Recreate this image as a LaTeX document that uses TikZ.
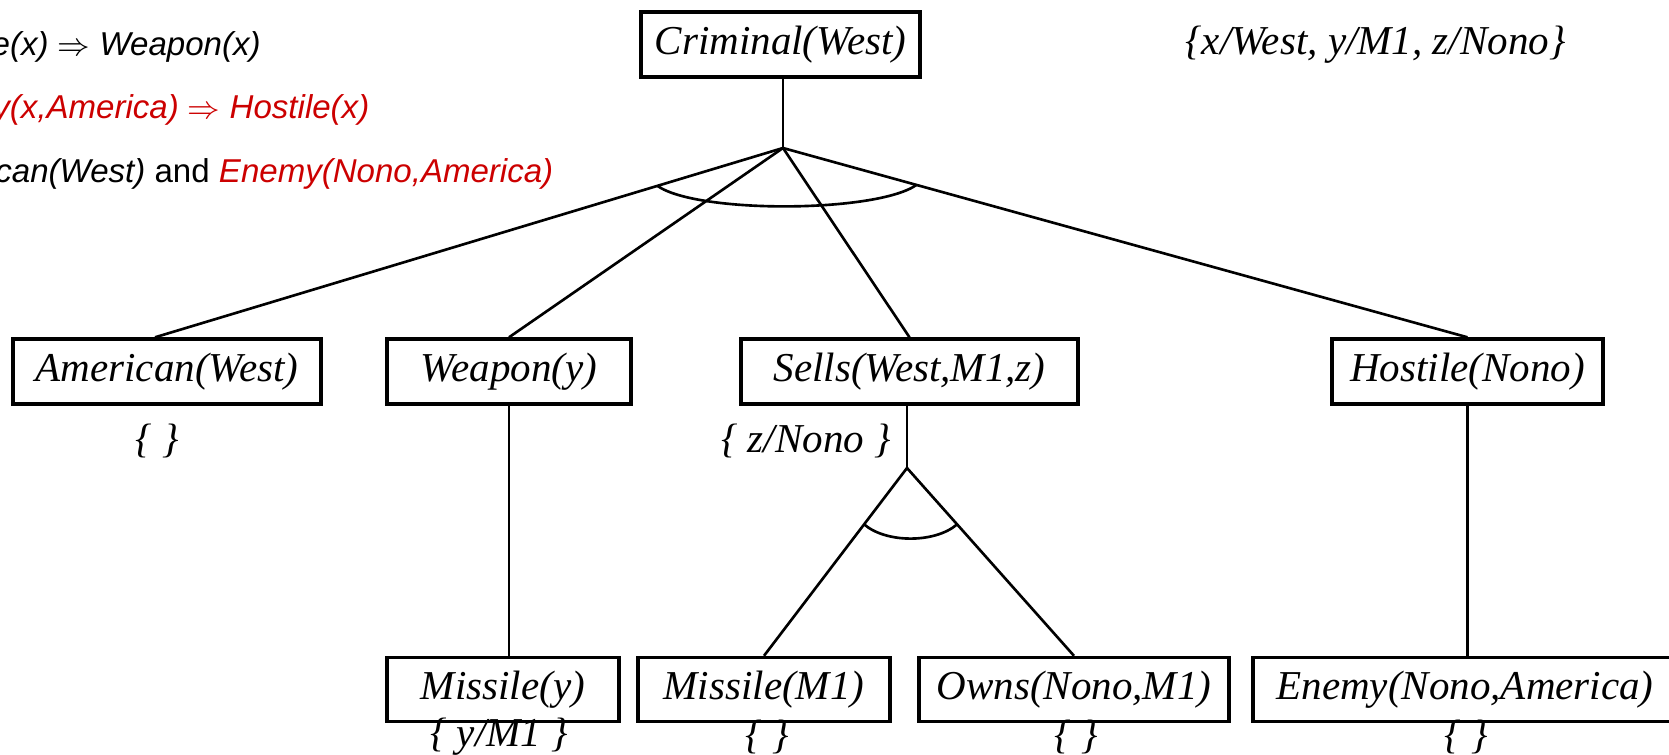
\documentclass[tikz,border=0pt]{standalone}
\usepackage{fontspec}
\setmainfont{Liberation Serif}
\newfontfamily\slidefont{Liberation Sans}
\usetikzlibrary{calc}
\definecolor{rulered}{RGB}{204,0,0}
\begin{document}
\begin{tikzpicture}[x=0.01cm,y=-0.01cm,
  goal/.style={draw=black, line width=0.95pt, inner sep=0pt, minimum height=0.65cm,
    font=\fontsize{11.67}{14}\selectfont\itshape},
  subst/.style={inner sep=0pt, font=\fontsize{11.67}{14}\selectfont\itshape},
  link/.style={line width=0.75pt},
  rule/.style={inner sep=0pt, anchor=base east,
    font=\slidefont\fontsize{9.4}{11}\selectfont\itshape}]
\useasboundingbox (0,0) rectangle (1669,754);
\clip (0,0) rectangle (1669,754);

% rules shown at the top left
\node[rule, anchor=base west] (r1) at (-9,55) {e(x) $\Rightarrow$ Weapon(x)};
\node[rule, text=rulered] (r2) at (370,118) {y(x,America) $\Rightarrow$ Hostile(x)};
\node[rule] (r3) at (554,182) {can(West) {\upshape and} \textcolor{rulered}{Enemy(Nono,America)}};

% goal
\node[goal, minimum width=2.79cm] (crim) at (780.5,44.5) {Criminal(West)};
\node[subst] (theta) at (1375.5,45) {\{x/West, y/M1, z/Nono\}};
\coordinate (j1) at (783,148);

% first level of subgoals
\node[goal, minimum width=3.08cm] (am) at (167,371.5) {American(West)};
\node[goal, minimum width=2.44cm] (wp) at (509,371.5) {Weapon(y)};
\node[goal, minimum width=3.37cm] (se) at (909.5,371.5) {Sells(West,M1,z)};
\node[goal, minimum width=2.71cm] (ho) at (1467.5,371.5) {Hostile(Nono)};
\node[subst] (sam) at (157,441) {\{ \}};
\node[subst] (sse) at (806,441) {\{ z/Nono \}};
\coordinate (j2) at (907,468);

% second level of subgoals
\node[goal, minimum width=2.32cm, minimum height=0.64cm] (my) at (503,689.5) {Missile(y)};
\node[goal, minimum width=2.52cm, minimum height=0.64cm] (mm) at (764,689.5) {Missile(M1)};
\node[goal, minimum width=3.10cm, minimum height=0.64cm] (ow) at (1074,689.5) {Owns(Nono,M1)};
\node[goal, minimum width=4.24cm, minimum height=0.64cm] (en) at (1465,689.5) {Enemy(Nono,America)};
\node[subst] (smy) at (499,737) {\{ y/M1 \}};
\node[subst] (smm) at (767,737) {\{ \}};
\node[subst] (sow) at (1076,737) {\{ \}};
\node[subst] (sen) at (1466,737) {\{ \}};

% and-links from the goal
\coordinate (amtop) at ($(am.north)+(-12,0)$);
\draw[link] (crim.south -| j1) -- (j1);
\draw[link] (j1) -- (amtop);
\draw[link] (j1) -- (wp.north);
\draw[link] (j1) -- (se.north);
\draw[link] (j1) -- (ho.north);
\coordinate (a1) at ($(j1)!0.2!(amtop)$);
\coordinate (a2) at ($(j1)!0.195!(ho.north)$);
\draw[link] (a1) .. controls ($(a1)+(40,28)$) and ($(a2)+(-40,28)$) .. (a2);

% single links
\draw[link] (wp.south) -- (wp.south |- my.north);
\draw[link] (ho.south) -- (ho.south |- en.north);

% and-links below Sells
\draw[link] (se.south -| j2) -- (j2);
\draw[link] (j2) -- (mm.north);
\draw[link] (j2) -- (ow.north);
\coordinate (b1) at ($(j2)!0.3!(mm.north)$);
\coordinate (b2) at ($(j2)!0.3!(ow.north)$);
\draw[link] (b1) .. controls ($(b1)+(22,19)$) and ($(b2)+(-22,19)$) .. (b2);
\end{tikzpicture}
\end{document}
